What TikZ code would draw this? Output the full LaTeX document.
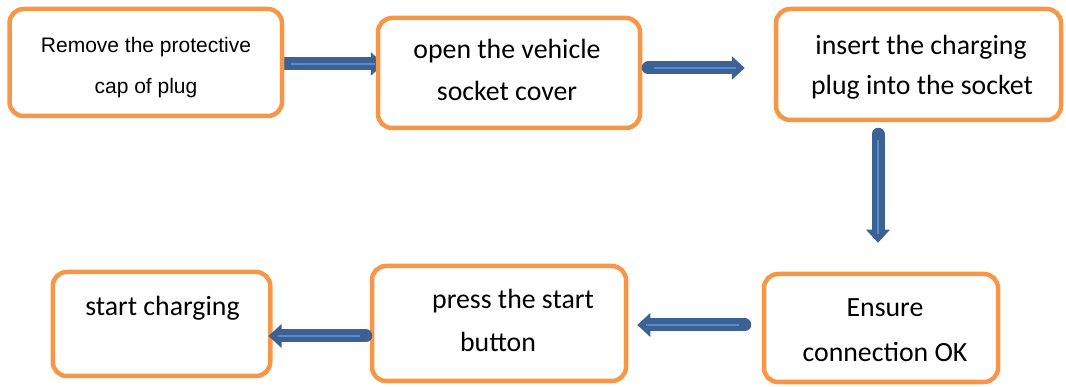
\documentclass[tikz,border=0pt]{standalone}
\usepackage{fontspec}
\setmainfont{Carlito}
\newfontfamily\arialfont{Liberation Sans}
\usetikzlibrary{arrows.meta,calc}
\pgfdeclarelayer{bg}
\pgfsetlayers{bg,main}
\definecolor{boxorange}{HTML}{F79646}
\definecolor{arrdark}{HTML}{3C6194}
\definecolor{arrlight}{HTML}{5A8BCB}
\tikzset{
  stepbox/.style={draw=boxorange, line width=4.5pt, fill=white, rounded corners=14pt, inner sep=0pt},
  lbl/.style={anchor=base, inner sep=0pt, font=\fontsize{27.8}{30}\selectfont},
  lblsmall/.style={anchor=base, inner sep=0pt, font=\arialfont\fontsize{21}{24}\selectfont},
  barrow/.style={draw=arrlight, line width=2.5pt, shorten <=6pt, shorten >=9pt,
    preaction={draw=arrdark, line width=13pt, line cap=round, shorten <=0pt, shorten >=0pt,
      -{Triangle[length=13pt,width=23pt]}}}
}
\begin{document}
\begin{tikzpicture}[x=1pt,y=-1pt]
\useasboundingbox (0,0) rectangle (1066,387);
% boxes
\node[stepbox, minimum width=272.5pt, minimum height=107pt] (b1) at (145.75,62.5) {};
\node[stepbox, minimum width=262pt, minimum height=110pt] (b2) at (509,73) {};
\node[stepbox, minimum width=285pt, minimum height=111pt] (b3) at (918.5,64.5) {};
\node[stepbox, minimum width=234pt, minimum height=108pt] (b4) at (881,328) {};
\node[stepbox, minimum width=254pt, minimum height=115pt] (b5) at (499,323.5) {};
\node[stepbox, minimum width=217.5pt, minimum height=104pt] (b6) at (161.5,324) {};
% texts
\node[lblsmall] (t1a) at (146,53) {Remove the protective};
\node[lblsmall] (t1b) at (146,94) {cap of plug};
\node[lbl] (t2a) at (507,59) {open the vehicle};
\node[lbl] (t2b) at (507,101) {socket cover};
\node[lbl] (t3a) at (921,55) {insert the charging};
\node[lbl] (t3b) at (922,95) {plug into the socket};
\node[lbl] (t4a) at (885,317) {Ensure};
\node[lbl] (t4b) at (885,362) {connection OK};
\node[lbl] (t5a) at (513,309) {press the start};
\node[lbl] (t5b) at (498,352) {button};
\node[lbl] (t6a) at (162.5,316) {start charging};
% arrows
\begin{pgfonlayer}{bg}
\draw[barrow] ($(b1.east)+(1,1.5)$) -- ($(b2.west)+(8,-9)$);
\end{pgfonlayer}
\draw[barrow] ($(b2.east)+(6,-5)$) -- ($(b3.west)+(-29,3.5)$);
\draw[barrow] ($(b3.south)+(-40.5,12)$) -- ($(b4.north)+(-3,-29)$);
\draw[barrow] ($(b4.west)+(-17,-3)$) -- ($(b5.east)+(9,1.5)$);
\draw[barrow] ($(b5.west)+(-4,12.5)$) -- ($(b6.east)+(-4,12)$);
\end{tikzpicture}
\end{document}
